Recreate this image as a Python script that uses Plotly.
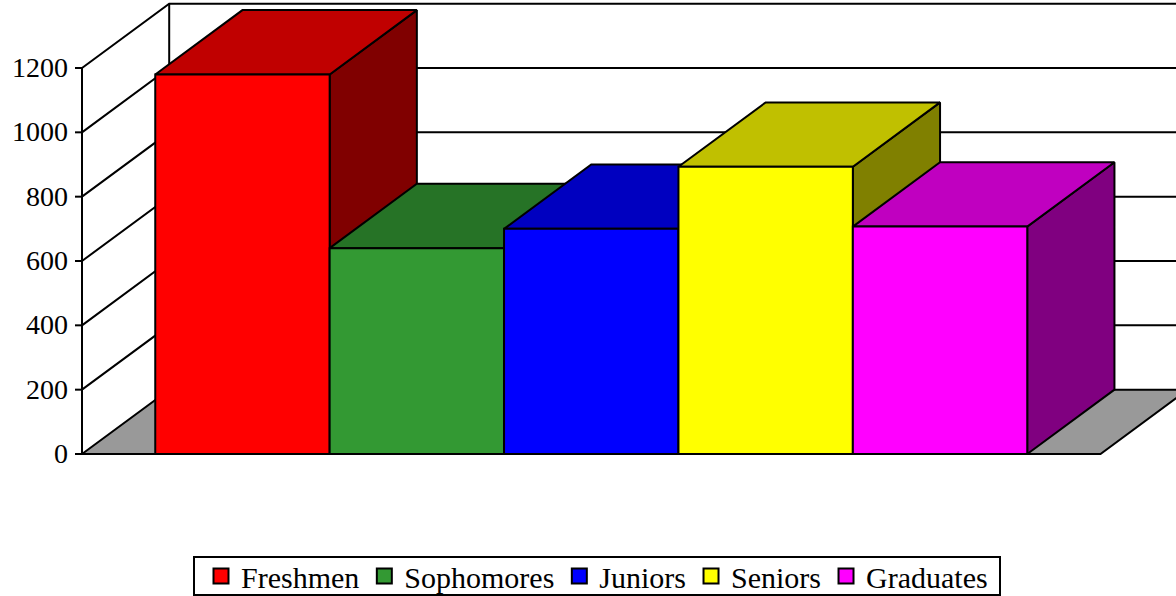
import plotly.graph_objects as go

# ---------------- data ----------------
categories = ["Freshmen", "Sophomores", "Juniors", "Seniors", "Graduates"]
values = [1180, 640, 700, 893, 707]
front_colors = ["#FF0000", "#339933", "#0000FF", "#FFFF00", "#FF00FF"]
top_colors = ["#C00000", "#267326", "#0000C0", "#C0C000", "#C000C0"]
side_colors = ["#800000", "#1A4D1A", "#000080", "#808000", "#800080"]
tick_values = [0, 200, 400, 600, 800, 1000, 1200]
tick_labels = ["0", "200", "400", "600", "800", "1000", "1200"]

# ---------------- geometry (axis units) ----------------
GAP = 0.42            # floor margin on each side of the bar row (category units)
DX = 0.5              # depth offset in category units
DY = 200              # depth offset in value units
FLOOR_W = len(categories) + 2 * GAP
Y_TOP = 1200
X_FAR = FLOOR_W + DX

# ---------------- canvas mapping ----------------
W, H = 1176, 596
PX_CAT = 174.4
PX_VAL = 386.0 / 1200
OX, OY = 82, 454
x_range = [-OX / PX_CAT, (W - OX) / PX_CAT]
y_range = [-(H - OY) / PX_VAL, OY / PX_VAL]

FONT = "Liberation Serif, Times New Roman, serif"
EDGE = dict(color="black", width=2)

fig = go.Figure()


def poly(xs, ys, fill):
    fig.add_trace(go.Scatter(
        x=list(xs) + [xs[0]], y=list(ys) + [ys[0]], mode="lines", fill="toself",
        fillcolor=fill, line=EDGE, hoverinfo="skip", showlegend=False))


# floor
poly([0, FLOOR_W, FLOOR_W + DX, DX], [0, 0, DY, DY], "#999999")

# walls: left wall grid (diagonals), back wall grid (horizontals), edges, ticks
lx, ly = [], []
for v in tick_values[1:]:
    lx += [0, DX, X_FAR, None]
    ly += [v, v + DY, v + DY, None]
lx += [0, 0, None, DX, DX, None]
ly += [0, Y_TOP, None, DY, Y_TOP + DY, None]
for v in tick_values:
    lx += [-7 / PX_CAT, 0, None]
    ly += [v, v, None]
fig.add_trace(go.Scatter(x=lx, y=ly, mode="lines", line=EDGE,
                         hoverinfo="skip", showlegend=False))

# tick labels
fig.add_trace(go.Scatter(
    x=[-14 / PX_CAT] * len(tick_values),
    y=[v - 2 / PX_VAL for v in tick_values], text=tick_labels,
    mode="text", textposition="middle left",
    textfont=dict(family=FONT, size=28, color="black"),
    hoverinfo="skip", showlegend=False))

# bars (left to right so later bars overlap earlier ones correctly)
for i, v in enumerate(values):
    x0 = GAP + i
    x1 = x0 + 1
    poly([x1, x1 + DX, x1 + DX, x1], [0, DY, v + DY, v], side_colors[i])
    poly([x0, x1, x1 + DX, x0 + DX], [v, v, v + DY, v + DY], top_colors[i])
    poly([x0, x1, x1, x0], [0, 0, v, v], front_colors[i])

# legend entries
for name, c in zip(categories, front_colors):
    fig.add_trace(go.Scatter(
        x=[None], y=[None], mode="markers", name=name,
        marker=dict(symbol="square", size=15, color=c,
                    line=dict(color="black", width=2))))

# legend frame
LEG_L, LEG_R, LEG_T, LEG_B = 194, 1000, 557, 595
fig.add_shape(type="rect", xref="paper", yref="paper",
              x0=LEG_L / W, x1=LEG_R / W, y0=(H - LEG_B) / H, y1=(H - LEG_T) / H,
              line=dict(color="black", width=2), fillcolor="rgba(0,0,0,0)",
              layer="above")

fig.update_layout(
    width=W, height=H,
    margin=dict(l=0, r=0, t=0, b=0, autoexpand=False),
    paper_bgcolor="white", plot_bgcolor="white",
    xaxis=dict(range=x_range, visible=False, fixedrange=True),
    yaxis=dict(range=y_range, visible=False, fixedrange=True),
    showlegend=True,
    legend=dict(orientation="h", x=(LEG_L + LEG_R) / 2 / W, xanchor="center",
                y=(H - 576) / H, yanchor="middle",
                borderwidth=0, bgcolor="rgba(0,0,0,0)",
                font=dict(family=FONT, size=30, color="black"),
                itemclick=False, itemdoubleclick=False),
)

fig.write_html(
    "out.html",
    config={"displayModeBar": False},
    post_script="document.body.style.margin='0px';document.body.style.overflow='hidden';",
)
